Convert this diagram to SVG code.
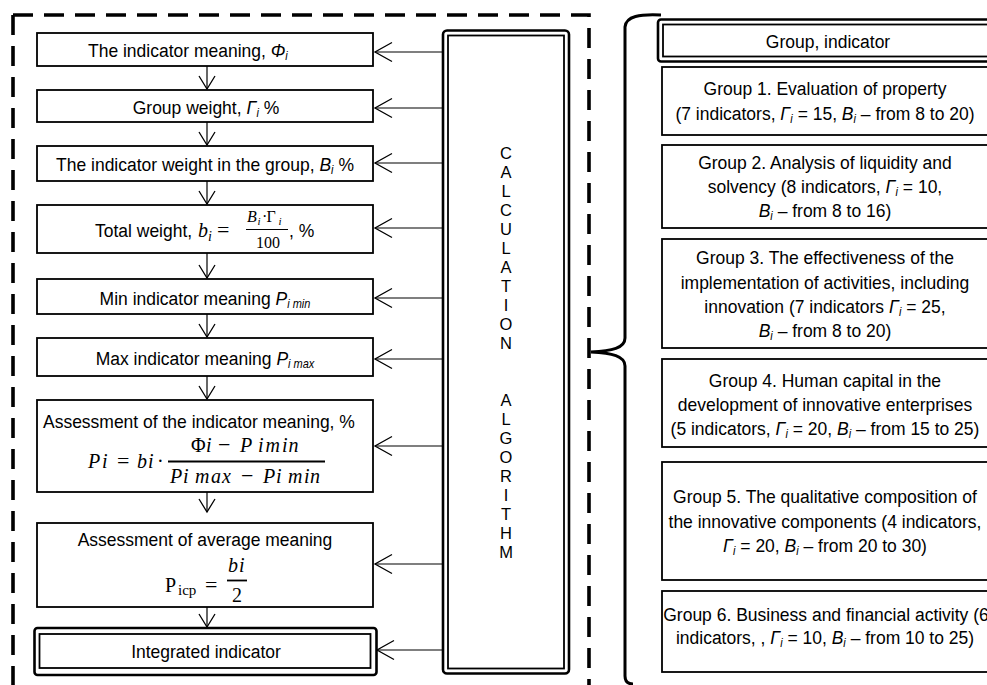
<svg xmlns="http://www.w3.org/2000/svg" width="987" height="685" viewBox="0 0 987 685">
<defs>
<style>
.t{font-family:"Liberation Sans",Arial,sans-serif;font-size:17.5px;fill:#000;transform-box:fill-box;transform-origin:center;transform:scaleY(1.1)}
.m{font-family:"Liberation Serif","Times New Roman",serif;font-size:20px;fill:#000}
.c{text-anchor:middle}
.i{font-style:italic}
.s{font-size:11px;font-style:italic}
.box{fill:#fff;stroke:#000;stroke-width:1.8}
.dbo{fill:#fff;stroke:#000;stroke-width:2.6}
.dbi{fill:none;stroke:#000;stroke-width:1.8}
.ln{fill:none;stroke:#000;stroke-width:1.2}
.bar{stroke:#000;stroke-width:1.8}
.L{font-family:"Liberation Sans",Arial,sans-serif;font-size:16.5px;text-anchor:middle;fill:#000}
</style>
<marker id="ah" viewBox="0 0 18 20" refX="17" refY="10" markerWidth="18" markerHeight="20" markerUnits="userSpaceOnUse" orient="auto" overflow="visible">
<path d="M0,0.5 L17,10 L0,19.5" fill="none" stroke="#000" stroke-width="1.3"/>
</marker>
<marker id="av" viewBox="0 0 14 18" refX="13" refY="9" markerWidth="14" markerHeight="18" markerUnits="userSpaceOnUse" orient="auto" overflow="visible">
<path d="M0,1 L13,9 L0,17" fill="none" stroke="#000" stroke-width="1.3"/>
</marker>
</defs>
<rect width="987" height="685" fill="#fff"/>

<g id="frame">
<path d="M13,15 V685" fill="none" stroke="#000" stroke-width="3.6" stroke-dasharray="20 11"/>
<path d="M13,15 H589 V685" fill="none" stroke="#000" stroke-width="3.6" stroke-dasharray="20 11"/>
</g>

<g id="connectors">
<path class="ln" d="M207,66 V89" marker-end="url(#av)"/>
<path class="ln" d="M207,122 V145" marker-end="url(#av)"/>
<path class="ln" d="M207,181 V204" marker-end="url(#av)"/>
<path class="ln" d="M207,253 V278" marker-end="url(#av)"/>
<path class="ln" d="M207,314 V337" marker-end="url(#av)"/>
<path class="ln" d="M207,376 V399" marker-end="url(#av)"/>
<path class="ln" d="M207,492 V512" marker-end="url(#av)"/>
<path class="ln" d="M207,607 V627" marker-end="url(#av)"/>
<path class="ln" d="M446,52 H375" marker-end="url(#ah)"/>
<path class="ln" d="M446,108 H375" marker-end="url(#ah)"/>
<path class="ln" d="M446,163 H375" marker-end="url(#ah)"/>
<path class="ln" d="M446,228 H375" marker-end="url(#ah)"/>
<path class="ln" d="M446,298 H375" marker-end="url(#ah)"/>
<path class="ln" d="M446,359 H375" marker-end="url(#ah)"/>
<path class="ln" d="M446,446 H375" marker-end="url(#ah)"/>
<path class="ln" d="M446,564 H375" marker-end="url(#ah)"/>
<path class="ln" d="M446,650 H377" marker-end="url(#ah)"/>
</g>

<g id="n1">
<rect class="box" x="37" y="33" width="336" height="33"/>
<text class="t" x="88" y="56.5">The indicator meaning, <tspan class="i">Φ</tspan><tspan class="s" dy="3">i</tspan></text>
</g>
<g id="n2">
<rect class="box" x="37" y="90" width="336" height="32"/>
<text class="t c" x="206" y="113">Group weight, <tspan class="i">Γ</tspan><tspan class="s" dy="3">i</tspan><tspan dy="-3"> %</tspan></text>
</g>
<g id="n3">
<rect class="box" x="37" y="146" width="336" height="35"/>
<text class="t c" x="205" y="170">The indicator weight in the group, <tspan class="i">B</tspan><tspan class="s" dy="3">i</tspan><tspan dy="-3"> %</tspan></text>
</g>
<g id="n4">
<rect class="box" x="37" y="205" width="336" height="48"/>
<text class="t" x="95" y="236.5">Total weight,</text>
<text class="m" y="237"><tspan class="i" x="198">b</tspan><tspan class="i" x="208" y="241" font-size="14">i</tspan><tspan x="217" y="237" font-size="22">=</tspan></text>
<text class="m" y="222" style="font-size:16px"><tspan class="i" x="247">B</tspan><tspan class="i" x="257.5" y="225" font-size="11">i</tspan><tspan x="262" y="222">·</tspan><tspan x="266.5" y="222">Γ</tspan><tspan class="i" x="278.5" y="225" font-size="11">i</tspan></text>
<line class="bar" x1="246" y1="229.5" x2="288" y2="229.5" style="stroke-width:1.1"/>
<text class="m c" x="268" y="248" style="font-size:16px">100</text>
<text class="t" x="289" y="236.5">, %</text>
</g>
<g id="n5">
<rect class="box" x="37" y="279" width="336" height="35"/>
<text class="t c" x="205" y="304.5">Min indicator meaning <tspan class="i">P</tspan><tspan class="s" dy="3">i min</tspan></text>
</g>
<g id="n6">
<rect class="box" x="37" y="338" width="336" height="38"/>
<text class="t c" x="205" y="364">Max indicator meaning <tspan class="i">P</tspan><tspan class="s" dy="3">i max</tspan></text>
</g>
<g id="n7">
<rect class="box" x="37" y="400" width="336" height="92"/>
<text class="t" x="43" y="427">Assessment of the indicator meaning, %</text>
<text class="m" y="468"><tspan class="i" x="88 102">Pi</tspan><tspan x="117" font-size="22">=</tspan><tspan class="i" x="137 148">bi</tspan><tspan x="157">·</tspan></text>
<text class="m" y="451.5"><tspan x="191">Φ</tspan><tspan class="i" x="206">i</tspan><tspan x="218" font-size="22">−</tspan><tspan class="i" x="240">P</tspan><tspan class="i" x="258 265.5 282 288.5">imin</tspan></text>
<line class="bar" x1="168" y1="461.5" x2="325" y2="461.5"/>
<text class="m" y="482.5"><tspan class="i" x="170 183">Pi</tspan><tspan class="i" x="195 211 222">max</tspan><tspan x="241" font-size="22">−</tspan><tspan class="i" x="263 276">Pi</tspan><tspan class="i" x="288 304 310">min</tspan></text>
</g>
<g id="n8">
<rect class="box" x="37" y="523" width="336" height="84"/>
<text class="t c" x="205" y="545.5">Assessment of average meaning</text>
<text class="m" y="591.5"><tspan x="165">P</tspan><tspan x="178" y="595" font-size="15">icp</tspan><tspan x="205" y="591.5" font-size="22">=</tspan></text>
<text class="m i" x="228 239" y="571.5">bi</text>
<line class="bar" x1="227" y1="580.5" x2="247" y2="580.5"/>
<text class="m c" x="237" y="601.5">2</text>
</g>
<g id="n9">
<rect class="dbo" x="34.5" y="628" width="342" height="47" rx="3"/>
<rect class="dbi" x="39.5" y="634" width="331" height="34"/>
<text class="t c" x="206" y="657.5">Integrated indicator</text>
</g>

<g id="algorithm">
<rect class="dbo" x="443" y="30.5" width="126" height="643" rx="4"/>
<rect class="dbi" x="448" y="35.5" width="116" height="633"/>
<text class="L"><tspan x="506" y="159">C</tspan><tspan x="506" y="178">A</tspan><tspan x="506" y="197">L</tspan><tspan x="506" y="216">C</tspan><tspan x="506" y="235">U</tspan><tspan x="506" y="254">L</tspan><tspan x="506" y="273">A</tspan><tspan x="506" y="292">T</tspan><tspan x="506" y="311">I</tspan><tspan x="506" y="330">O</tspan><tspan x="506" y="349">N</tspan><tspan x="506" y="406">A</tspan><tspan x="506" y="425">L</tspan><tspan x="506" y="444">G</tspan><tspan x="506" y="463">O</tspan><tspan x="506" y="482">R</tspan><tspan x="506" y="501">I</tspan><tspan x="506" y="520">T</tspan><tspan x="506" y="539">H</tspan><tspan x="506" y="558">M</tspan></text>
</g>

<g id="brace">
<path d="M661,15 C640,14 626,16 625,27 L625,338 C625,348 612,351 591,352 C612,353 625,356 625,366 L625,676 C625,682 628,684 633,684" fill="none" stroke="#000" stroke-width="3"/>
</g>

<g id="header">
<rect class="dbo" x="658" y="19.5" width="340" height="42" rx="3"/>
<rect class="dbi" x="663" y="24.5" width="330" height="32"/>
<text class="t c" x="828" y="47">Group, indicator</text>
</g>
<g id="g1">
<rect class="box" x="662" y="67" width="330" height="68"/>
<text class="t c" x="825" y="94.5">Group 1. Evaluation of property</text>
<text class="t c" x="825" y="119">(7 indicators, <tspan class="i">Γ</tspan><tspan class="s" dy="3">i</tspan><tspan dy="-3"> = 15, </tspan><tspan class="i">B</tspan><tspan class="s" dy="3">i</tspan><tspan dy="-3"> – from 8 to 20)</tspan></text>
</g>
<g id="g2">
<rect class="box" x="662" y="145" width="330" height="83"/>
<text class="t c" x="825" y="168.5">Group 2. Analysis of liquidity and</text>
<text class="t c" x="825" y="192.5">solvency (8 indicators, <tspan class="i">Γ</tspan><tspan class="s" dy="3">i</tspan><tspan dy="-3"> = 10,</tspan></text>
<text class="t c" x="825" y="216.5"><tspan class="i">B</tspan><tspan class="s" dy="3">i</tspan><tspan dy="-3"> – from 8 to 16)</tspan></text>
</g>
<g id="g3">
<rect class="box" x="662" y="239" width="330" height="109"/>
<text class="t c" x="825" y="263.5">Group 3. The effectiveness of the</text>
<text class="t c" x="825" y="288">implementation of activities, including</text>
<text class="t c" x="825" y="312">innovation (7 indicators <tspan class="i">Γ</tspan><tspan class="s" dy="3">i</tspan><tspan dy="-3"> = 25,</tspan></text>
<text class="t c" x="825" y="336"><tspan class="i">B</tspan><tspan class="s" dy="3">i</tspan><tspan dy="-3"> – from 8 to 20)</tspan></text>
</g>
<g id="g4">
<rect class="box" x="662" y="359" width="330" height="88"/>
<text class="t c" x="825" y="386">Group 4. Human capital in the</text>
<text class="t c" x="825" y="410.5">development of innovative enterprises</text>
<text class="t c" x="825" y="434.5">(5 indicators, <tspan class="i">Γ</tspan><tspan class="s" dy="3">i</tspan><tspan dy="-3"> = 20, </tspan><tspan class="i">B</tspan><tspan class="s" dy="3">i</tspan><tspan dy="-3"> – from 15 to 25)</tspan></text>
</g>
<g id="g5">
<rect class="box" x="662" y="462" width="330" height="118"/>
<text class="t c" x="825" y="502">Group 5. The qualitative composition of</text>
<text class="t c" x="825" y="527">the innovative components (4 indicators,</text>
<text class="t c" x="825" y="551.5"><tspan class="i">Γ</tspan><tspan class="s" dy="3">i</tspan><tspan dy="-3"> = 20, </tspan><tspan class="i">B</tspan><tspan class="s" dy="3">i</tspan><tspan dy="-3"> – from 20 to 30)</tspan></text>
</g>
<g id="g6">
<rect class="box" x="662" y="591" width="330" height="81"/>
<text class="t c" x="826" y="620">Group 6. Business and financial activity (6</text>
<text class="t c" x="825" y="643.5">indicators, , <tspan class="i">Γ</tspan><tspan class="s" dy="3">i</tspan><tspan dy="-3"> = 10, </tspan><tspan class="i">B</tspan><tspan class="s" dy="3">i</tspan><tspan dy="-3"> – from 10 to 25)</tspan></text>
</g>
</svg>
